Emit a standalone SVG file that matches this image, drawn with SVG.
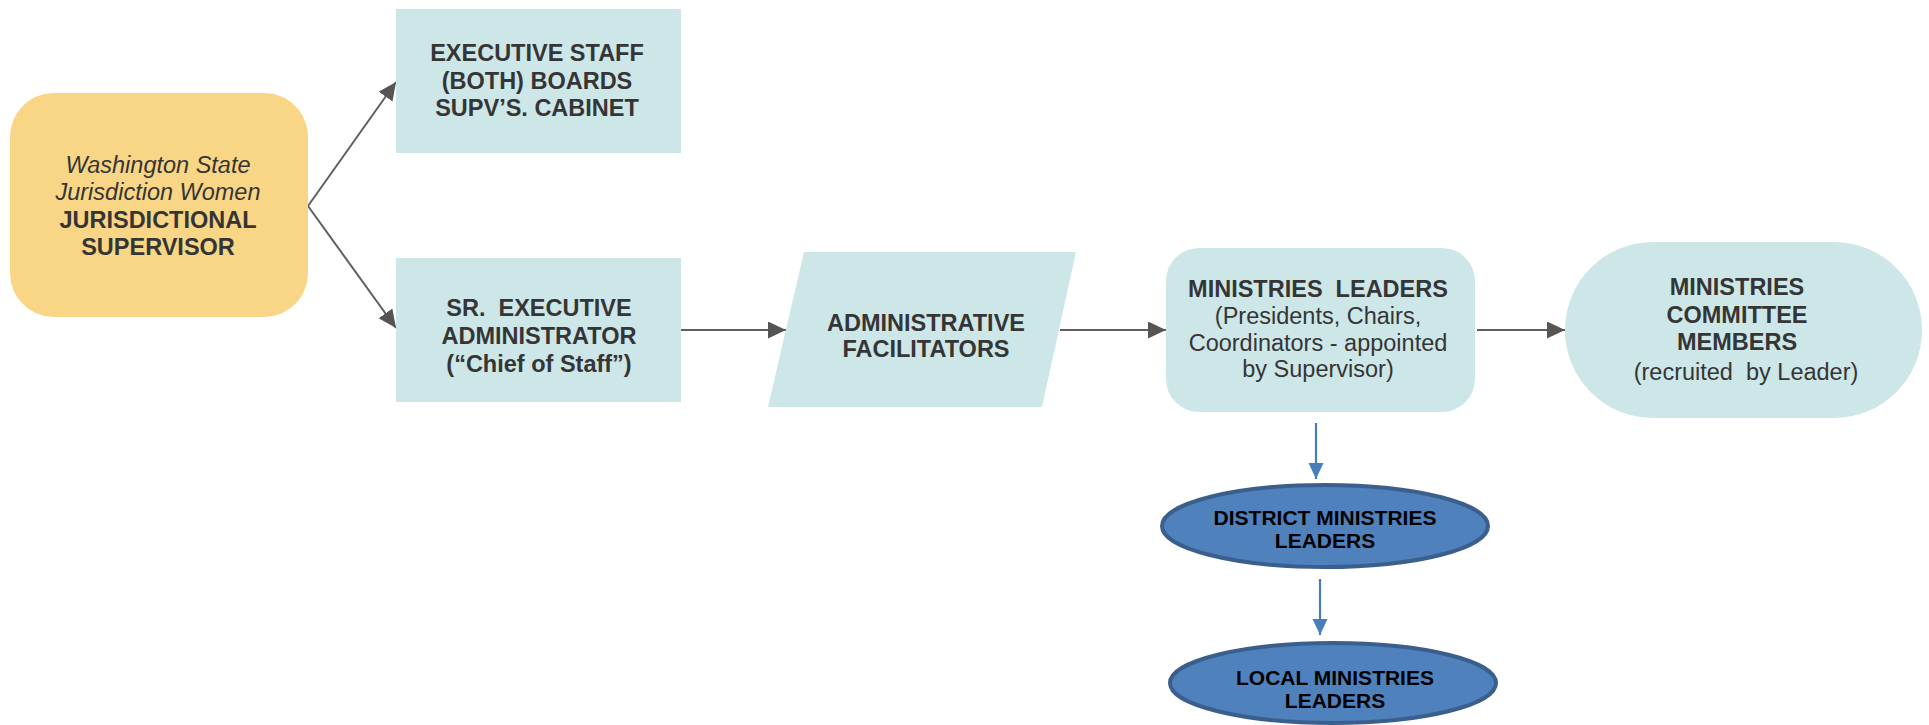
<svg xmlns="http://www.w3.org/2000/svg" width="1929" height="725" viewBox="0 0 1929 725">
<style>
text{font-family:"Liberation Sans",Arial,sans-serif;fill:#353535;text-anchor:middle;font-size:23.5px}
.b{font-weight:bold}
.i{font-style:italic}
.box{fill:#cde6e8}
.gc{stroke:#5f5f5f;stroke-width:2;fill:none}
.bc{stroke:#4a7ebb;stroke-width:2.2;fill:none}
.ell{fill:#4f81bd;stroke:#3a5f8d;stroke-width:4}
.et{fill:#000;font-weight:bold;font-size:21px}
</style>
<defs>
<marker id="ga" markerUnits="userSpaceOnUse" markerWidth="20" markerHeight="18" refX="18" refY="8.5" orient="auto">
<path d="M0,0 L18,8.5 L0,17 z" fill="#555555"/>
</marker>
<marker id="ba" markerUnits="userSpaceOnUse" markerWidth="18" markerHeight="16" refX="16" refY="7.5" orient="auto">
<path d="M0,0 L16,7.5 L0,15 z" fill="#4a7ebb"/>
</marker>
</defs>
<rect width="1929" height="725" fill="#ffffff"/>
<g id="connectors">
<path class="gc" d="M308,206 L396,82" marker-end="url(#ga)"/>
<path class="gc" d="M308,206 L396,328" marker-end="url(#ga)"/>
<path class="gc" d="M681,330 L786,330" marker-end="url(#ga)"/>
<path class="gc" d="M1060,330 L1166,330" marker-end="url(#ga)"/>
<path class="gc" d="M1477,330 L1565,330" marker-end="url(#ga)"/>
<path class="bc" d="M1316,423 L1316,479" marker-end="url(#ba)"/>
<path class="bc" d="M1320,579 L1320,635" marker-end="url(#ba)"/>
</g>
<g id="supervisor">
<rect x="10" y="93" width="298" height="224" rx="44" ry="44" fill="#f9d586"/>
<text class="i" x="158" y="173">Washington State</text>
<text class="i" x="158" y="200">Jurisdiction Women</text>
<text class="b" x="158" y="228">JURISDICTIONAL</text>
<text class="b" x="158" y="255">SUPERVISOR</text>
</g>
<g id="executive-staff">
<rect class="box" x="396" y="9" width="285" height="144"/>
<text class="b" x="537" y="61">EXECUTIVE STAFF</text>
<text class="b" x="537" y="89">(BOTH) BOARDS</text>
<text class="b" x="537" y="116">SUPV’S. CABINET</text>
</g>
<g id="sr-executive">
<rect class="box" x="396" y="258" width="285" height="144"/>
<text class="b" x="539" y="316" xml:space="preserve">SR.  EXECUTIVE</text>
<text class="b" x="539" y="344">ADMINISTRATOR</text>
<text class="b" x="539" y="372">(“Chief of Staff”)</text>
</g>
<g id="admin-facilitators">
<polygon class="box" points="804,252 1076,252 1042,407 768,407"/>
<text class="b" x="926" y="331">ADMINISTRATIVE</text>
<text class="b" x="926" y="357">FACILITATORS</text>
</g>
<g id="ministries-leaders">
<rect class="box" x="1166" y="248" width="309" height="164" rx="33" ry="33"/>
<text class="b" x="1318" y="297" xml:space="preserve">MINISTRIES  LEADERS</text>
<text x="1318" y="324">(Presidents, Chairs,</text>
<text x="1318" y="351">Coordinators - appointed</text>
<text x="1318" y="377">by Supervisor)</text>
</g>
<g id="committee-members">
<rect class="box" x="1565" y="242" width="357" height="176" rx="88" ry="88"/>
<text class="b" x="1737" y="295">MINISTRIES</text>
<text class="b" x="1737" y="323">COMMITTEE</text>
<text class="b" x="1737" y="350">MEMBERS</text>
<text x="1746" y="380" xml:space="preserve">(recruited  by Leader)</text>
</g>
<g id="district-leaders">
<ellipse class="ell" cx="1325" cy="526" rx="163" ry="41"/>
<text class="et" x="1325" y="525">DISTRICT MINISTRIES</text>
<text class="et" x="1325" y="548">LEADERS</text>
</g>
<g id="local-leaders">
<ellipse class="ell" cx="1333" cy="683" rx="163" ry="40"/>
<text class="et" x="1335" y="685">LOCAL MINISTRIES</text>
<text class="et" x="1335" y="708">LEADERS</text>
</g>
</svg>
